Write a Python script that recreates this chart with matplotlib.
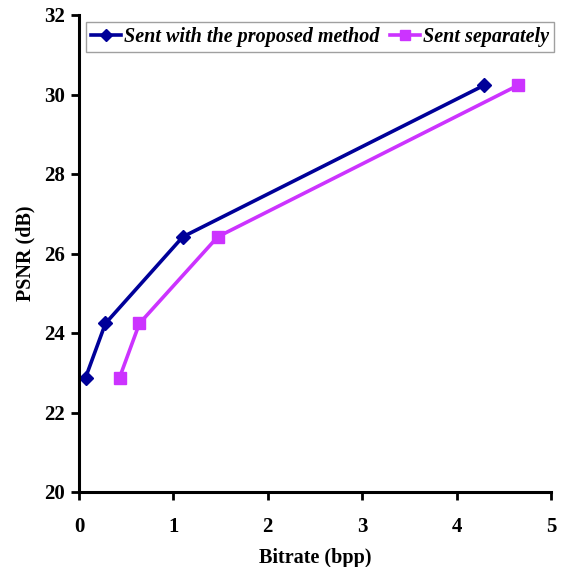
import matplotlib.pyplot as plt

# datos
bitrate_propuesto = [0.07, 0.28, 1.10, 4.29]
bitrate_separado = [0.43, 0.64, 1.47, 4.65]
psnr = [22.88, 24.24, 26.42, 30.23]
xticks = [0, 1, 2, 3, 4, 5]
yticks = [20, 22, 24, 26, 28, 30, 32]

plt.rcParams['font.family'] = ['Liberation Serif', 'DejaVu Serif']
plt.rcParams['font.weight'] = 'bold'

fig = plt.figure(figsize=(5.67, 5.67), dpi=100)
ax = fig.add_axes([79/567, 75/567, 472/567, 477/567])

l1, = ax.plot(bitrate_propuesto, psnr, color='#000099', lw=2.6, marker='D', ms=7,
              label='Sent with the proposed method')
l2, = ax.plot(bitrate_separado, psnr, color='#CC33FF', lw=2.6, marker='s', ms=9,
              label='Sent separately')

ax.set_xlim(0, 5)
ax.set_ylim(20, 32)
ax.set_xticks(xticks)
ax.set_yticks(yticks)
ax.tick_params(labelsize=15, width=2, length=6, direction='out')
ax.tick_params(axis='x', pad=12)
ax.tick_params(axis='y', pad=4)
for s in ['top', 'right']:
    ax.spines[s].set_visible(False)
for s in ['left', 'bottom']:
    ax.spines[s].set_linewidth(2.2)
ax.set_xlabel('Bitrate (bpp)', fontsize=14.5, fontweight='bold', labelpad=8)
ax.set_ylabel('PSNR (dB)', fontsize=14.5, fontweight='bold', labelpad=6)

leg = fig.legend(handles=[l1, l2], loc='upper left', bbox_to_anchor=(86/567, 1 - 22/567),
                 ncol=2, frameon=True, fancybox=False, handlelength=1.5, handletextpad=0.15,
                 columnspacing=0.5, borderpad=0.25, borderaxespad=0, markerscale=0.85,
                 prop={'family': 'Liberation Serif', 'weight': 'bold', 'style': 'italic', 'size': 14.5})
leg.get_frame().set_edgecolor('#888888')
leg.get_frame().set_linewidth(1)

fig.savefig('out.png', dpi=100)
